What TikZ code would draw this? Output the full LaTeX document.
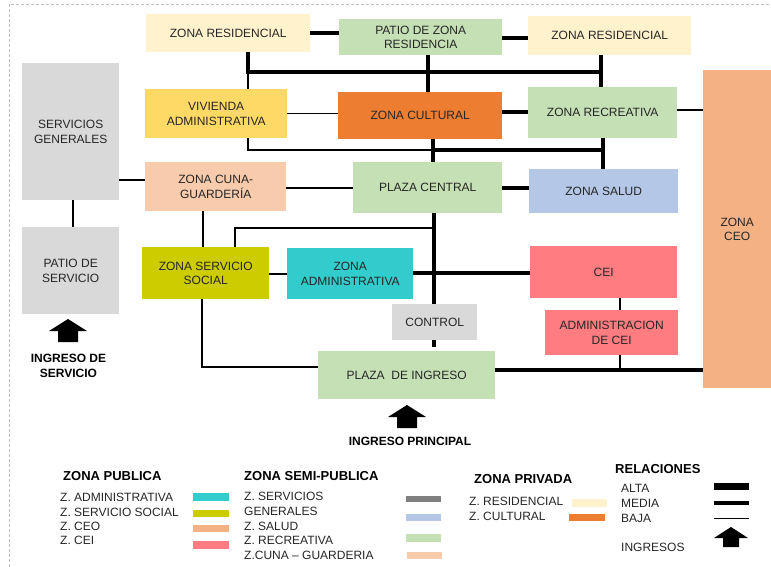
\documentclass[tikz,border=0pt]{standalone}
\usepackage{fontspec}
\setmainfont{Liberation Sans}
\usetikzlibrary{calc}
\definecolor{cRes}{HTML}{FFF2CC}
\definecolor{cGreen}{HTML}{C5E0B4}
\definecolor{cViv}{HTML}{FFD966}
\definecolor{cCult}{HTML}{ED7D31}
\definecolor{cGray}{HTML}{D9D9D9}
\definecolor{cCuna}{HTML}{F8CBAD}
\definecolor{cSalud}{HTML}{B4C7E7}
\definecolor{cSoc}{HTML}{CCCC00}
\definecolor{cAdm}{HTML}{33CCCC}
\definecolor{cCei}{HTML}{FF7C80}
\definecolor{cCeo}{HTML}{F4B183}
\definecolor{cDark}{HTML}{808080}
\definecolor{cTxt}{HTML}{262626}
\definecolor{cBorder}{HTML}{BFBFBF}
\tikzset{
 zone/.style={anchor=north west, inner sep=0pt, align=center, text=cTxt, font=\fontsize{12}{14.5}\selectfont},
 alta/.style={line width=4.5pt},
 media/.style={line width=3.4pt},
 medb/.style={line width=2.2pt},
 baja/.style={line width=1.2pt},
 lg/.style={anchor=base west, inner sep=0pt, text=cTxt, font=\fontsize{12}{14}\selectfont},
 lghead/.style={anchor=base west, inner sep=0pt, text=black, font=\bfseries\fontsize{13}{15}\selectfont},
 ingtext/.style={anchor=base, inner sep=0pt, text=black, font=\bfseries\fontsize{12}{14}\selectfont},
 uparr/.pic={\fill (0,0) -- (19,12) -- (10,12) -- (10,23) -- (-10,23) -- (-10,12) -- (-19,12) -- cycle;},
}
\begin{document}
\begin{tikzpicture}[x=1pt,y=-1pt]
\useasboundingbox (0,0) rectangle (771,567);
\draw[cBorder, dash pattern=on 3pt off 2pt, line width=0.8pt] (9,567) -- (9,4) -- (771,4);

% zones
\node[zone, fill=cRes, minimum width=164pt, minimum height=38pt] (r1) at (146,14) {ZONA RESIDENCIAL};
\node[zone, fill=cGreen, minimum width=163pt, minimum height=36pt] (patio) at (339,19) {PATIO DE ZONA\\RESIDENCIA};
\node[zone, fill=cRes, minimum width=163pt, minimum height=39pt] (r2) at (528,16) {ZONA RESIDENCIAL};
\node[zone, fill=cGray, minimum width=97pt, minimum height=137pt] (sg) at (22,63) {SERVICIOS\\GENERALES};
\node[zone, fill=cViv, minimum width=142pt, minimum height=49pt] (viv) at (145,89) {VIVIENDA\\ADMINISTRATIVA};
\node[zone, fill=cCult, minimum width=164pt, minimum height=47pt] (cult) at (338,92) {ZONA CULTURAL};
\node[zone, fill=cGreen, minimum width=149pt, minimum height=51pt] (recr) at (528,87) {ZONA RECREATIVA};
\node[zone, fill=cCeo, minimum width=68pt, minimum height=318pt] (ceo) at (703,70) {ZONA\\CEO};
\node[zone, fill=cCuna, minimum width=141pt, minimum height=49pt] (cuna) at (145,162) {ZONA CUNA-\\GUARDERÍA};
\node[zone, fill=cGreen, minimum width=149pt, minimum height=51pt] (pc) at (353,162) {PLAZA CENTRAL};
\node[zone, fill=cSalud, minimum width=149pt, minimum height=44pt] (salud) at (529,169) {ZONA SALUD};
\node[zone, fill=cGray, minimum width=97pt, minimum height=87pt] (ps) at (22,227) {PATIO DE\\SERVICIO};
\node[zone, fill=cSoc, minimum width=127pt, minimum height=52pt] (ss) at (142,247) {ZONA SERVICIO\\SOCIAL};
\node[zone, fill=cAdm, minimum width=126pt, minimum height=51pt] (adm) at (287,248) {ZONA\\ADMINISTRATIVA};
\node[zone, fill=cGray, minimum width=85pt, minimum height=36pt] (control) at (392,304) {CONTROL};
\node[zone, fill=cGreen, minimum width=177pt, minimum height=48pt] (pi) at (318,351) {PLAZA\ \ DE INGRESO};
\node[zone, fill=cCei, minimum width=147pt, minimum height=52pt] (cei) at (530,246) {CEI};
\node[zone, fill=cCei, minimum width=133pt, minimum height=45pt] (acei) at (545,310) {ADMINISTRACION\\DE CEI};

% connectors
\draw[alta] (r1.east |- 0,33) -- (patio.west |- 0,33);
\draw[alta] (patio.east |- 0,38) -- (r2.west |- 0,38);
\coordinate (b1L) at (248,72);
\coordinate (b1R) at (601,72);
\draw[baja] (r1.south -| b1L) -- (viv.north -| b1L);
\draw[alta] (r1.south -| b1L) -- (b1L) -- (b1R);
\draw[alta] (r2.south -| b1R) -- (recr.north -| b1R);
\draw[alta] (patio.south -| 428,0) -- (cult.north -| 428,0);
\draw[baja] (viv.east) -- (cult.west |- viv.east);
\draw[alta] (cult.east |- 0,112) -- (recr.west |- 0,112);
\draw[baja] (recr.east |- 0,110) -- (ceo.west |- 0,110);
\coordinate (b2L) at (248,150);
\coordinate (b2M) at (433,150);
\coordinate (b2R) at (603,150);
\draw[baja] (viv.south -| b2L) -- (b2L) -- (b2M);
\draw[alta] (b2M) -- (b2R);
\draw[alta] (cult.south -| b2M) -- (pc.north -| b2M);
\draw[alta] (recr.south -| b2R) -- (salud.north -| b2R);
\draw[baja] (cuna.east |- 0,188) -- (pc.west |- 0,188);
\draw[baja] (sg.east |- 0,180) -- (cuna.west |- 0,180);
\draw[baja] (sg.south -| 73,0) -- (ps.north -| 73,0);
\draw[alta] (pc.east |- 0,188) -- (salud.west |- 0,188);
\draw[medb] (cuna.south -| 203,0) -- (ss.north -| 203,0);
\coordinate (c1) at (434,228);
\coordinate (c2) at (235,228);
\draw[media] (pc.south -| c1) -- (control.north -| c1);
\draw[baja] (c1) -- (c2) -- (ss.north -| c2);
\draw[media] (adm.east |- 0,273) -- (cei.west |- 0,273);
\draw[medb] (ss.east |- 0,274) -- (adm.west |- 0,274);
\coordinate (c3) at (434,347);
\draw[media] (control.south -| c3) -- (c3);
\coordinate (d1) at (202,367);
\draw[medb] (ss.south -| d1) -- (d1) -- (pi.west |- d1);
\draw[alta] (pi.east |- 0,370) -- (ceo.west |- 0,370);
\coordinate (e1) at (620,370);
\draw[baja] (cei.south -| e1) -- (acei.north -| e1);
\draw[baja] (acei.south -| e1) -- (e1);

% entrances
\pic at (68,319) {uparr};
\node[ingtext] (is1) at (68.5,362) {INGRESO DE};
\node[ingtext] (is2) at (68.5,377) {SERVICIO};
\pic at (407,405) {uparr};
\node[ingtext] (ip) at (410,445) {INGRESO PRINCIPAL};

% legend: zona publica
\node[lghead] (h1) at (63,480) {ZONA PUBLICA};
\node[lg] (p1) at (60,501.5) {Z. ADMINISTRATIVA};
\node[lg] (p2) at (60,516.5) {Z. SERVICIO SOCIAL};
\node[lg] (p3) at (60,530.5) {Z. CEO};
\node[lg] (p4) at (60,544.5) {Z. CEI};
\fill[cAdm] (193,493) rectangle (229,501);
\fill[cSoc] (193,510) rectangle (229,517);
\fill[cCeo] (193,525) rectangle (229,532);
\fill[cCei] (193,541) rectangle (229,549);

% legend: zona semi-publica
\node[lghead] (h2) at (244,480) {ZONA SEMI-PUBLICA};
\node[lg] (s1) at (244,500) {Z. SERVICIOS};
\node[lg] (s2) at (244,515) {GENERALES};
\node[lg] (s3) at (244,530) {Z. SALUD};
\node[lg] (s4) at (244,544) {Z. RECREATIVA};
\node[lg] (s5) at (244,559) {Z.CUNA – GUARDERIA};
\fill[cDark] (406,496) rectangle (441,502);
\fill[cSalud] (406,514) rectangle (441,521);
\fill[cGreen] (406,534) rectangle (441,542);
\fill[cCuna] (407,552) rectangle (442,559);

% legend: zona privada
\node[lghead] (h3) at (474,483) {ZONA PRIVADA};
\node[lg] (v1) at (469,505.5) {Z. RESIDENCIAL};
\node[lg] (v2) at (469,520.5) {Z. CULTURAL};
\fill[cRes] (572,499) rectangle (607,507);
\fill[cCult] (569,514) rectangle (605,521);

% legend: relaciones
\node[lghead] (h4) at (615,473) {RELACIONES};
\node[lg] (q1) at (621,492.5) {ALTA};
\node[lg] (q2) at (621,507.5) {MEDIA};
\node[lg] (q3) at (621,522.5) {BAJA};
\node[lg] (q4) at (621,551.5) {INGRESOS};
\fill (714,483) rectangle (749,490);
\fill (714,501) rectangle (749,505);
\draw[line width=1pt] (714,518) -- (749,518);
\fill (731,527) -- (748,538) -- (739,538) -- (739,547) -- (723,547) -- (723,538) -- (714,538) -- cycle;
\end{tikzpicture}
\end{document}
